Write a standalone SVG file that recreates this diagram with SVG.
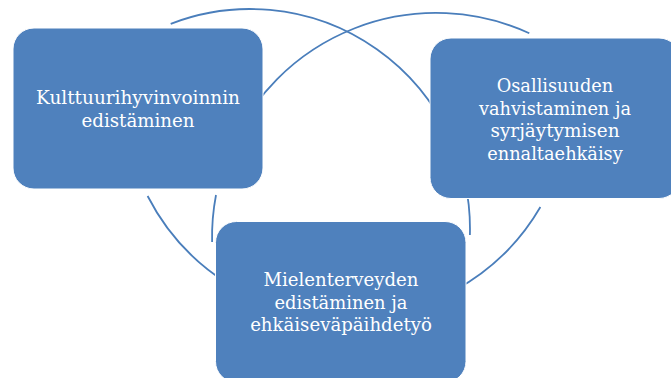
<svg xmlns="http://www.w3.org/2000/svg" width="671" height="378" viewBox="0 0 671 378">
  <style>
    .arc { fill: none; stroke: #4A7EBB; stroke-width: 1.8; }
    .box { fill: #4F81BD; stroke: #FFFFFF; stroke-width: 1; }
    .lbl { font-family: "DejaVu Serif", "Liberation Serif", serif; font-size: 18px; fill: #FFFFFF; text-anchor: middle; }
  </style>
  <rect width="671" height="378" fill="#FFFFFF"/>
  <g id="connectors">
    <path class="arc" d="M 170.7 23.8 A 220 220 0 0 1 469.9 235"/>
    <path class="arc" d="M 529.3 33.3 A 224 224 0 0 0 229.6 150"/>
    <path class="arc" d="M 216 195 A 224 224 0 0 0 212.1 242"/>
    <path class="arc" d="M 147.6 196 A 224 224 0 0 0 540.4 207"/>
  </g>
  <g id="node-kulttuuri">
    <rect class="box" x="13" y="28" width="250" height="161" rx="21" ry="21"/>
    <text class="lbl" x="138" y="104" textLength="204" lengthAdjust="spacingAndGlyphs">Kulttuurihyvinvoinnin</text>
    <text class="lbl" x="138" y="127" textLength="113" lengthAdjust="spacingAndGlyphs">edistäminen</text>
  </g>
  <g id="node-osallisuus">
    <rect class="box" x="430" y="38" width="250" height="160.5" rx="21" ry="21"/>
    <text class="lbl" x="555" y="92" textLength="116.6" lengthAdjust="spacingAndGlyphs">Osallisuuden</text>
    <text class="lbl" x="555" y="114.7" textLength="152" lengthAdjust="spacingAndGlyphs">vahvistaminen ja</text>
    <text class="lbl" x="555" y="137.3" textLength="129" lengthAdjust="spacingAndGlyphs">syrjäytymisen</text>
    <text class="lbl" x="555" y="160" textLength="135.6" lengthAdjust="spacingAndGlyphs">ennaltaehkäisy</text>
  </g>
  <g id="node-mielenterveys">
    <rect class="box" x="215.5" y="221.5" width="250.5" height="161" rx="21" ry="21"/>
    <text class="lbl" x="341" y="286" textLength="155" lengthAdjust="spacingAndGlyphs">Mielenterveyden</text>
    <text class="lbl" x="341" y="308.5" textLength="133" lengthAdjust="spacingAndGlyphs">edistäminen ja</text>
    <text class="lbl" x="341" y="331" textLength="181.7" lengthAdjust="spacingAndGlyphs">ehkäiseväpäihdetyö</text>
  </g>
</svg>
